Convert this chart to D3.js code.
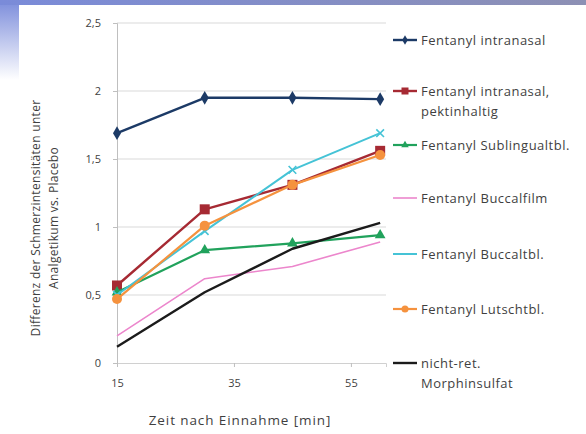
<!DOCTYPE html>
<html>
<head>
<meta charset="utf-8">
<script src="https://cdn.jsdelivr.net/npm/d3@7"></script>
<style>
  html, body { margin: 0; padding: 0; background: #fff; }
  svg { display: block; }
  text { font-family: "Open Sans", Lato, sans-serif; fill: #3f3f3f; }
</style>
</head>
<body>
<svg id="chart" width="586" height="434"></svg>
<script>
// Time points (minutes after intake)
const times = [15, 30, 45, 60];
const xTicks = [15, 35, 55];
const yTicks = [0, 0.5, 1, 1.5, 2, 2.5];

// Series names and values (difference of pain intensity vs. placebo)
const seriesNames = [
  "Fentanyl intranasal",
  "Fentanyl intranasal, pektinhaltig",
  "Fentanyl Sublingualtbl.",
  "Fentanyl Buccalfilm",
  "Fentanyl Buccaltbl.",
  "Fentanyl Lutschtbl.",
  "nicht-ret. Morphinsulfat"
];
const legendLines = [
  ["Fentanyl intranasal"],
  ["Fentanyl intranasal,", "pektinhaltig"],
  ["Fentanyl Sublingualtbl."],
  ["Fentanyl Buccalfilm"],
  ["Fentanyl Buccaltbl."],
  ["Fentanyl Lutschtbl."],
  ["nicht-ret.", "Morphinsulfat"]
];
const intranasal   = [1.69, 1.95, 1.95, 1.94];
const pektin       = [0.57, 1.13, 1.31, 1.56];
const sublingual   = [0.52, 0.83, 0.88, 0.94];
const buccalfilm   = [0.20, 0.62, 0.71, 0.89];
const buccaltbl    = [0.50, 0.97, 1.42, 1.69];
const lutsch       = [0.47, 1.01, 1.31, 1.53];
const morphin      = [0.12, 0.52, 0.84, 1.03];

const seriesValues = [intranasal, pektin, sublingual, buccalfilm, buccaltbl, lutsch, morphin];
const colors  = ["#1c3a66", "#a62a33", "#21a25c", "#ec86cc", "#45c3d6", "#f5923e", "#1b1b1b"];
const markers = ["diamond", "square", "triangle", "none", "cross", "circle", "none"];
const widths  = [2.4, 2.4, 2.2, 1.6, 2.0, 2.2, 2.4];

const svg = d3.select("#chart");

// Slide background: blue band on top and fading strip on the left
const defs = svg.append("defs");
const topGrad = defs.append("linearGradient").attr("id", "topGrad")
  .attr("x1", 0).attr("x2", 1).attr("y1", 0).attr("y2", 0);
topGrad.append("stop").attr("offset", 0).attr("stop-color", "#7a8bd9");
topGrad.append("stop").attr("offset", 1).attr("stop-color", "#8d90b4");
const leftGrad = defs.append("linearGradient").attr("id", "leftGrad")
  .attr("x1", 0).attr("x2", 0).attr("y1", 0).attr("y2", 1);
leftGrad.append("stop").attr("offset", 0).attr("stop-color", "#7b8cdb");
leftGrad.append("stop").attr("offset", 1).attr("stop-color", "#ffffff");

svg.append("rect").attr("x", 0).attr("y", 0).attr("width", 19).attr("height", 80)
  .attr("fill", "url(#leftGrad)");
svg.append("rect").attr("x", 0).attr("y", 0).attr("width", 586).attr("height", 5)
  .attr("fill", "url(#topGrad)");

const x = d3.scaleLinear().domain([15, 61]).range([117, 386]);
const y = d3.scaleLinear().domain([0, 2.5]).range([363, 23]);
const fmt = v => String(v).replace(".", ",");

// Horizontal gridlines
svg.append("g").selectAll("line").data(yTicks.filter(d => d > 0)).join("line")
  .attr("x1", x(15)).attr("x2", x.range()[1])
  .attr("y1", d => y(d)).attr("y2", d => y(d))
  .attr("stroke", "#d9d9d9").attr("stroke-width", 1);

// Y axis
const yAxis = svg.append("g").attr("transform", `translate(${x(15)},0)`)
  .call(d3.axisLeft(y).tickValues(yTicks).tickFormat(fmt).tickSize(4).tickPadding(12));
yAxis.select(".domain").attr("stroke", "#bfbfbf");
yAxis.selectAll(".tick line").attr("stroke", "#bfbfbf");
yAxis.selectAll("text").style("font-size", "11px").attr("fill", "#3f3f3f");

// X axis
const xAxis = svg.append("g").attr("transform", `translate(0,${y(0)})`)
  .call(d3.axisBottom(x).tickValues(xTicks).tickFormat(d3.format("d")).tickSize(4).tickPadding(12));
xAxis.select(".domain").attr("stroke", "#d0d0d0");
xAxis.selectAll(".tick line").attr("stroke", "#bfbfbf");
xAxis.selectAll("text").style("font-size", "11px").attr("fill", "#3f3f3f");

// Axis titles
svg.append("text").attr("x", 240).attr("y", 425).attr("text-anchor", "middle")
  .style("font-size", "13.5px").style("letter-spacing", "0.9px")
  .text("Zeit nach Einnahme [min]");
const yt = svg.append("text").attr("transform", "translate(40,218) rotate(-90)")
  .attr("text-anchor", "middle").style("font-size", "12px").style("letter-spacing", "0.3px");
yt.append("tspan").attr("x", 0).attr("dy", 0).text("Differenz der Schmerzintensitäten unter");
yt.append("tspan").attr("x", 0).attr("dy", 18).text("Analgetikum vs. Placebo");

// Marker drawing helper
function drawMarker(g, type, cx, cy, color) {
  if (type === "diamond") {
    g.append("path").attr("d", d3.symbol(d3.symbolDiamond, 55)())
      .attr("transform", `translate(${cx},${cy})`).attr("fill", color);
  } else if (type === "square") {
    g.append("rect").attr("x", cx - 5).attr("y", cy - 5).attr("width", 10).attr("height", 10)
      .attr("fill", color);
  } else if (type === "triangle") {
    g.append("path").attr("d", d3.symbol(d3.symbolTriangle, 50)())
      .attr("transform", `translate(${cx},${cy})`).attr("fill", color);
  } else if (type === "circle") {
    g.append("circle").attr("cx", cx).attr("cy", cy).attr("r", 5).attr("fill", color);
  } else if (type === "cross") {
    g.append("path").attr("d", d3.symbol(d3.symbolX, 40)())
      .attr("transform", `translate(${cx},${cy})`).attr("fill", "none")
      .attr("stroke", color).attr("stroke-width", 1.6);
  }
}

// Series lines
const line = d3.line().x((d, i) => x(times[i])).y(d => y(d));
seriesValues.forEach((vals, s) => {
  const g = svg.append("g");
  g.append("path").datum(vals).attr("d", line)
    .attr("fill", "none").attr("stroke", colors[s]).attr("stroke-width", widths[s])
    .attr("stroke-linejoin", "round");
  vals.forEach((v, i) => drawMarker(g, markers[s], x(times[i]), y(v), colors[s]));
});

// Legend
const legendY = [40, 91, 145, 198, 254, 309, 363];
legendLines.forEach((lines, s) => {
  const g = svg.append("g").attr("transform", `translate(393,${legendY[s]})`);
  g.append("line").attr("x1", 0).attr("x2", 24).attr("y1", 0).attr("y2", 0)
    .attr("stroke", colors[s]).attr("stroke-width", widths[s]);
  const m = markers[s] === "cross" ? "none" : markers[s];
  if (m !== "none") {
    const sub = g.append("g").attr("transform", "translate(12,0) scale(0.7)");
    drawMarker(sub, m, 0, 0, colors[s]);
  }
  lines.forEach((t, k) => {
    g.append("text").attr("x", 28).attr("y", k * 20).attr("dy", "0.35em")
      .style("font-size", "13px").style("letter-spacing", "0.5px").text(t);
  });
});
</script>
</body>
</html>
